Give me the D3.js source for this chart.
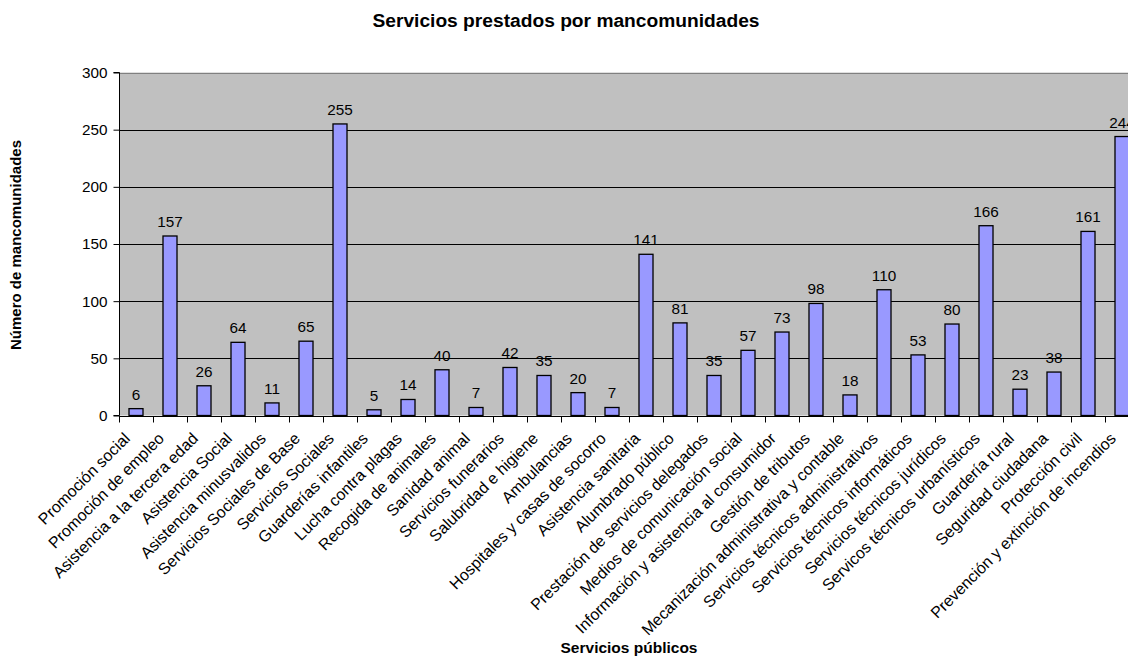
<!DOCTYPE html>
<html>
<head>
<meta charset="utf-8">
<script src="https://cdn.jsdelivr.net/npm/d3@7"></script>
<style>
  html, body { margin: 0; padding: 0; background: #fff; }
  svg { display: block; font-family: "Liberation Sans", Arial, sans-serif; }
</style>
</head>
<body>
<svg id="chart" width="1128" height="657"></svg>
<script>
// Services provided by "mancomunidades" (associations of municipalities)
const categories = [
  "Promoción social",
  "Promoción de empleo",
  "Asistencia a la tercera edad",
  "Asistencia Social",
  "Asistencia minusvalidos",
  "Servicios Sociales de Base",
  "Servicios Sociales",
  "Guarderías infantiles",
  "Lucha contra plagas",
  "Recogida de animales",
  "Sanidad animal",
  "Servicios funerarios",
  "Salubridad e higiene",
  "Ambulancias",
  "Hospitales y casas de socorro",
  "Asistencia sanitaria",
  "Alumbrado público",
  "Prestación de servicios delegados",
  "Medios de comunicación social",
  "Información y asistencia al consumidor",
  "Gestión de tributos",
  "Mecanización administrativa y contable",
  "Servicios técnicos administrativos",
  "Servicios técnicos informáticos",
  "Servicios técnicos jurídicos",
  "Servicos técnicos urbanísticos",
  "Guardería rural",
  "Seguridad ciudadana",
  "Protección civil",
  "Prevención y extinción de incendios"
];

const counts = [6, 157, 26, 64, 11, 65, 255, 5, 14, 40, 7, 42, 35, 20, 7,
                141, 81, 35, 57, 73, 98, 18, 110, 53, 80, 166, 23, 38, 161, 244];

const yTicks = [0, 50, 100, 150, 200, 250, 300];

const chartTitle = "Servicios prestados por mancomunidades";
const xTitle = "Servicios públicos";
const yTitle = "Número de mancomunidades";

const data = categories.map((c, i) => ({ name: c, value: counts[i] }));

const svg = d3.select("#chart");

const plot = { left: 119, right: 1139, top: 72.5, bottom: 415.5 };

const x = d3.scaleBand()
  .domain(categories)
  .range([plot.left, plot.right])
  .paddingInner(0.588)
  .paddingOuter(0.294);

const y = d3.scaleLinear()
  .domain([0, 300])
  .range([plot.bottom, plot.top]);

// plot background
svg.append("rect")
  .attr("x", plot.left)
  .attr("y", plot.top)
  .attr("width", plot.right - plot.left)
  .attr("height", plot.bottom - plot.top)
  .attr("fill", "#c0c0c0");

// horizontal gridlines
svg.append("g")
  .selectAll("line")
  .data(yTicks.filter(t => t > 0))
  .join("line")
  .attr("x1", plot.left)
  .attr("x2", plot.right)
  .attr("y1", d => Math.round(y(d)) + 0.5)
  .attr("y2", d => Math.round(y(d)) + 0.5)
  .attr("stroke", d => d === 300 ? "#808080" : "#000")
  .attr("stroke-width", 1);

// bars
svg.append("g")
  .selectAll("rect")
  .data(data)
  .join("rect")
  .attr("x", d => x(d.name))
  .attr("y", d => y(d.value))
  .attr("width", x.bandwidth())
  .attr("height", d => y(0) - y(d.value))
  .attr("fill", "#9999ff")
  .attr("stroke", "#000")
  .attr("stroke-width", 1.3);

// value labels
svg.append("g")
  .selectAll("text")
  .data(data)
  .join("text")
  .attr("x", d => x(d.name) + x.bandwidth() / 2)
  .attr("y", d => y(d.value) - 9)
  .attr("text-anchor", "middle")
  .attr("font-size", "15.3px")
  .attr("fill", "#000")
  .text(d => d.value);

// y axis
const yAxis = d3.axisLeft(y)
  .tickValues(yTicks)
  .tickSize(6)
  .tickPadding(6)
  .tickFormat(d3.format("d"));

const gy = svg.append("g")
  .attr("transform", `translate(${plot.left + 0.5},0)`)
  .call(yAxis);
gy.select(".domain").attr("stroke", "#000").attr("d", `M-6,${plot.top}H0V${plot.bottom}H-6`);
gy.selectAll(".tick line").attr("stroke", "#000");
gy.selectAll(".tick text")
  .attr("font-size", "15.3px")
  .attr("font-family", "Liberation Sans, Arial, sans-serif")
  .attr("fill", "#000");

// x axis: baseline with ticks at category boundaries
const gx = svg.append("g");
gx.append("line")
  .attr("x1", plot.left)
  .attr("x2", plot.right)
  .attr("y1", Math.round(y(0)) + 0.5)
  .attr("y2", Math.round(y(0)) + 0.5)
  .attr("stroke", "#000");

const step = x.step();
gx.selectAll("line.tick")
  .data(d3.range(categories.length + 1))
  .join("line")
  .attr("class", "tick")
  .attr("x1", i => Math.round(plot.left + i * step) + 0.5)
  .attr("x2", i => Math.round(plot.left + i * step) + 0.5)
  .attr("y1", Math.round(y(0)) + 0.5)
  .attr("y2", Math.round(y(0)) + 6.5)
  .attr("stroke", "#000");

// rotated category labels
gx.selectAll("text")
  .data(categories)
  .join("text")
  .attr("transform", d => `translate(${x(d) + x.bandwidth() / 2 - 5},${plot.bottom + 24}) rotate(-45)`)
  .attr("text-anchor", "end")
  .attr("font-size", "16px")
  .attr("fill", "#000")
  .text(d => d);

// titles
svg.append("text")
  .attr("x", 566)
  .attr("y", 27)
  .attr("text-anchor", "middle")
  .attr("font-size", "19.2px")
  .attr("font-weight", "bold")
  .text(chartTitle);

svg.append("text")
  .attr("x", (plot.left + plot.right) / 2)
  .attr("y", 653)
  .attr("text-anchor", "middle")
  .attr("font-size", "15.5px")
  .attr("font-weight", "bold")
  .text(xTitle);

svg.append("text")
  .attr("transform", `translate(21,${(plot.top + plot.bottom) / 2 + 1}) rotate(-90)`)
  .attr("text-anchor", "middle")
  .attr("font-size", "15px")
  .attr("font-weight", "bold")
  .text(yTitle);
</script>
</body>
</html>
